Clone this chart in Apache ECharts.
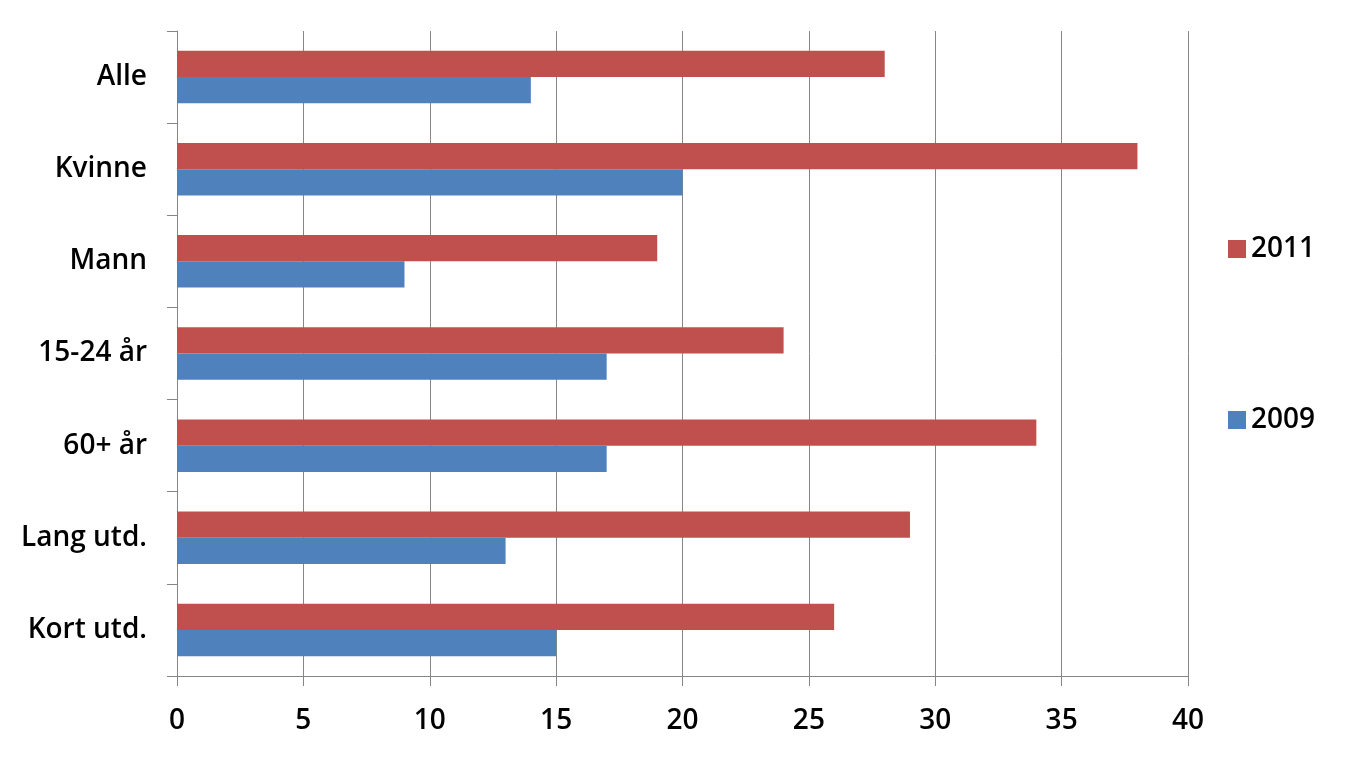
<!DOCTYPE html>
<html><head><meta charset="utf-8">
<script src="https://cdn.jsdelivr.net/npm/echarts@6/dist/echarts.min.js"></script>
<style>html,body{margin:0;padding:0;background:#fff}#c{width:1366px;height:759px}</style>
</head><body><div id="c"></div>
<script>
const categories = ["Alle", "Kvinne", "Mann", "15-24 år", "60+ år", "Lang utd.", "Kort utd."];
const values2011 = [28, 38, 19, 24, 34, 29, 26];
const values2009 = [14, 20, 9, 17, 17, 13, 15];
const seriesNames = ["2011", "2009"];
const font = "'Open Sans', Lato, sans-serif";
const chart = echarts.init(document.getElementById('c'), null, {renderer: 'canvas'});
chart.setOption({
  animation: false,
  color: ['#C0504D', '#4F81BD'],
  grid: {left: 177, top: 31, right: 178, bottom: 83, containLabel: false},
  legend: {
    orient: 'vertical', left: 1223, top: 230,
    itemWidth: 18, itemHeight: 18, itemGap: 143,
    icon: 'rect',
    textStyle: {fontFamily: font, fontSize: 28, fontWeight: 600, color: '#000', padding: [0, 0, 0, 0]},
    data: seriesNames
  },
  xAxis: {
    type: 'value', min: 0, max: 40, interval: 5,
    axisLine: {show: true, lineStyle: {color: '#868686', width: 1}},
    axisTick: {show: true, length: 10, lineStyle: {color: '#868686'}},
    splitLine: {show: true, lineStyle: {color: '#868686', width: 1}},
    axisLabel: {fontFamily: font, fontSize: 28, fontWeight: 600, color: '#000', margin: 31}
  },
  yAxis: {
    type: 'category', data: categories, inverse: true,
    axisLine: {show: true, lineStyle: {color: '#868686', width: 1}},
    axisTick: {show: true, length: 10, lineStyle: {color: '#868686'}},
    axisLabel: {fontFamily: font, fontSize: 28, fontWeight: 600, color: '#000', margin: 30, padding: [4, 0, 0, 0]}
  },
  series: [
    {name: seriesNames[0], type: 'bar', data: values2011, barGap: '0%', barCategoryGap: '43%'},
    {name: seriesNames[1], type: 'bar', data: values2009, barGap: '0%', barCategoryGap: '43%'}
  ]
});
</script></body></html>
